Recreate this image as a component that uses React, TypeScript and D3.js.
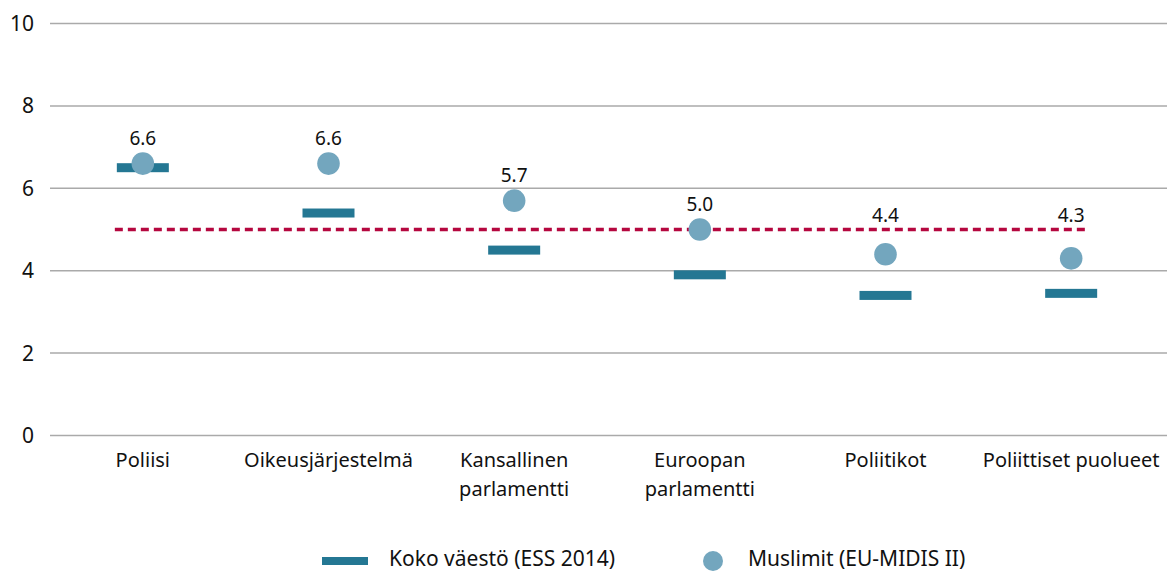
import React from 'react';
import * as d3 from 'd3';

const categories = [
  ['Poliisi'],
  ['Oikeusjärjestelmä'],
  ['Kansallinen', 'parlamentti'],
  ['Euroopan', 'parlamentti'],
  ['Poliitikot'],
  ['Poliittiset puolueet'],
];
const kokoValues = [6.5, 5.4, 4.5, 3.9, 3.4, 3.45];
const muslimValues = [6.6, 6.6, 5.7, 5.0, 4.4, 4.3];
const yTicks = [0, 2, 4, 6, 8, 10];
const referenceValue = 5.0;
const legendLabels = ['Koko väestö (ESS 2014)', 'Muslimit (EU-MIDIS II)'];

const width = 1167,
  height = 572;
const font = "'Noto Sans', sans-serif";

export default function App() {
  const x = d3
    .scaleBand<number>()
    .domain(d3.range(categories.length))
    .range([50, 1164]);

  const y = d3.scaleLinear().domain([0, 10]).range([435.5, 23.5]);

  const cx = (i: number) => (x(i) as number) + x.bandwidth() / 2;
  // labels never go below the reference line
  const labelY = (v: number) => Math.min(y(v) - 19, y(referenceValue) - 8);

  return (
    <svg
      width={width}
      height={height}
      style={{ position: 'absolute', left: 0, top: 0, fontFamily: font }}
    >
      {/* grid + y ticks */}
      {yTicks.map(t => (
        <g key={t}>
          <line x1={50} x2={width} y1={y(t)} y2={y(t)} stroke="#aaaaaa" strokeWidth={1.5} />
          <text x={34} y={y(t) + 7.5} textAnchor="end" fontSize={21} fill="#111">
            {t}
          </text>
        </g>
      ))}

      {/* reference line */}
      <line
        x1={cx(0) - 28}
        x2={cx(5) + 14}
        y1={y(referenceValue)}
        y2={y(referenceValue)}
        stroke="#b5073f"
        strokeWidth={3.5}
        strokeDasharray="8 5"
      />

      {/* bars */}
      {kokoValues.map((v, i) => (
        <rect key={i} x={cx(i) - 26} y={y(v) - 4.5} width={52} height={9} fill="#247793" />
      ))}

      {/* circles + labels */}
      {muslimValues.map((v, i) => (
        <g key={i}>
          <circle cx={cx(i)} cy={y(v)} r={11.3} fill="#73a6be" />
          <text x={cx(i)} y={labelY(v)} textAnchor="middle" fontSize={19} fill="#111">
            {v.toFixed(1)}
          </text>
        </g>
      ))}

      {/* category labels */}
      {categories.map((lines, i) => (
        <text key={i} x={cx(i)} textAnchor="middle" fontSize={20} fill="#111">
          {lines.map((l, j) => (
            <tspan key={j} x={cx(i)} y={467 + j * 29}>
              {l}
            </tspan>
          ))}
        </text>
      ))}

      {/* legend */}
      <rect x={322} y={557} width={46} height={8} fill="#247793" />
      <text x={389} y={566} fontSize={21} fill="#111">
        {legendLabels[0]}
      </text>
      <circle cx={713} cy={561} r={10} fill="#73a6be" />
      <text x={748} y={566} fontSize={21} fill="#111">
        {legendLabels[1]}
      </text>
    </svg>
  );
}
